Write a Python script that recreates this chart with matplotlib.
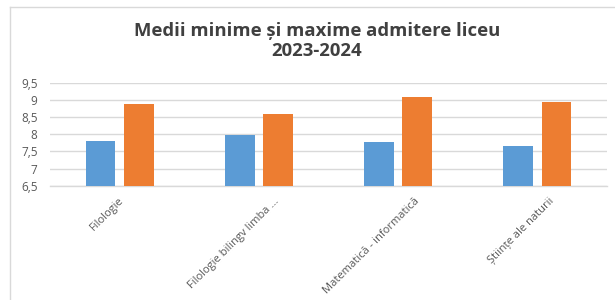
import matplotlib.pyplot as plt
import matplotlib.transforms as mtransforms
import numpy as np

categories = ["Filologie", "Filologie bilingv limba ...", "Matematică - informatică", "Științe ale naturii"]
medii_minime = [7.81, 7.98, 7.79, 7.66]
medii_maxime = [8.90, 8.59, 9.09, 8.95]
y_ticks = [6.5, 7, 7.5, 8, 8.5, 9, 9.5]
y_tick_labels = ["6,5", "7", "7,5", "8", "8,5", "9", "9,5"]

plt.rcParams['font.family'] = ['Open Sans', 'DejaVu Sans']

fig = plt.figure(figsize=(6.15, 3.0), dpi=100)
ax = fig.add_axes([50 / 615, 1 - 185.7 / 300, 557 / 615, 102.7 / 300])

x = np.arange(len(categories))
w = 0.213
ax.bar(x - 0.137, np.array(medii_minime) - 6.5, w, bottom=6.5, color="#5b9bd5", zorder=3)
ax.bar(x + 0.137, np.array(medii_maxime) - 6.5, w, bottom=6.5, color="#ed7d31", zorder=3)

ax.set_xlim(-0.5, len(categories) - 0.5)
ax.set_ylim(6.5, 9.5)
ax.set_yticks(y_ticks)
ax.set_yticklabels(y_tick_labels, fontsize=8.5, color="#595959")
ax.set_xticks(x)
ax.set_xticklabels(categories, rotation=45, ha="right", rotation_mode="anchor",
                   fontsize=8, color="#595959")
ax.tick_params(length=0, pad=9)
ax.tick_params(axis="x", pad=7)
ax.grid(axis="y", color="#d9d9d9", linewidth=1, zorder=0)
for s in ["left", "right", "top"]:
    ax.spines[s].set_visible(False)
ax.spines["bottom"].set_color("#d9d9d9")
ax.spines["bottom"].set_linewidth(1)

# Excel places the rotated labels a bit to the right of the tick
label_shift_px = [-1, 15, 16, 11]
for lab, dx in zip(ax.get_xticklabels(), label_shift_px):
    lab.set_transform(lab.get_transform() + mtransforms.ScaledTranslation(dx / 100, 0, fig.dpi_scale_trans))

fig.text(0.515, 0.862, "Medii minime și maxime admitere liceu\n2023-2024",
         ha="center", va="center", fontsize=13.3, fontweight="bold",
         color="#404040", linespacing=1.13)

# chart frame (left and top edges)
fig.add_artist(plt.Line2D([10 / 615, 10 / 615], [0, 1 - 7 / 300], color="#d9d9d9", lw=1))
fig.add_artist(plt.Line2D([10 / 615, 1], [1 - 7 / 300, 1 - 7 / 300], color="#d9d9d9", lw=1))

fig.savefig("out.png", dpi=100)
